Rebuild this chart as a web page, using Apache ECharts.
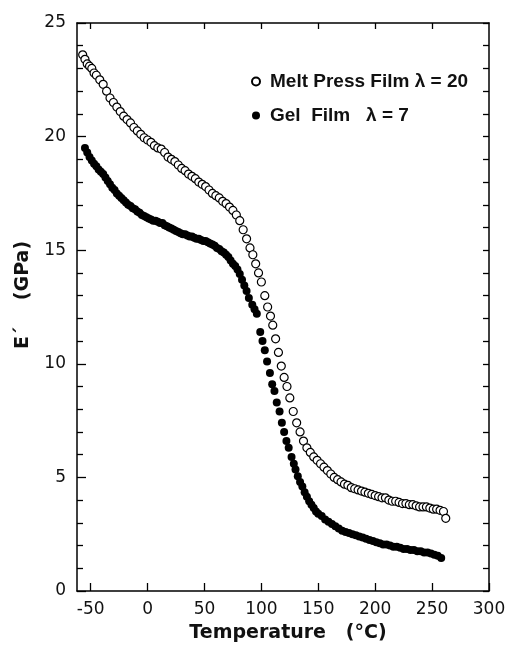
<!DOCTYPE html>
<html>
<head>
<meta charset="utf-8">
<title>E' vs Temperature</title>
<script src="https://cdn.jsdelivr.net/npm/echarts@6/dist/echarts.min.js"></script>
<style>
html, body { margin:0; height:100%; background:#fff; }
</style>
</head>
<body>
<div id="main" style="width:508px;height:648px;"></div>
<script>
// Melt Press Film (open circles)
var meltT = [-57,-55,-53,-51,-49,-47,-45,-42,-39,-36,-33,-30,-27,-24,-21,-18,-15,-12,-9,-6,-3,0,3,6,9,12,15,18,21,24,27,30,33,36,39,42,45,48,51,54,57,60,63,66,69,72,75,78,81,84,87,90,92.5,95,97.5,100,103,105.5,108,110,112.5,115,117.5,120,122.5,125,128,131,134,137,140,143,146,149,152,155,158,161,164,167,170,173,176,179,182,185,188,191,194,197,200,203,206,209,212,215,218,221,224,227,230,233,236,239,242,245,248,251,254,257,260,262];
var meltE = [23.6,23.4,23.2,23.1,23.0,22.8,22.7,22.5,22.3,22.0,21.7,21.5,21.3,21.1,20.9,20.75,20.6,20.4,20.25,20.1,19.95,19.85,19.75,19.6,19.5,19.45,19.3,19.1,19.0,18.9,18.75,18.6,18.5,18.35,18.25,18.15,18.0,17.9,17.8,17.65,17.5,17.4,17.3,17.15,17.05,16.9,16.75,16.55,16.3,15.9,15.5,15.1,14.8,14.4,14.0,13.6,13.0,12.5,12.1,11.7,11.1,10.5,9.9,9.4,9.0,8.5,7.9,7.4,7.0,6.6,6.3,6.1,5.9,5.75,5.6,5.45,5.3,5.15,5.0,4.9,4.8,4.7,4.65,4.55,4.5,4.45,4.4,4.35,4.3,4.25,4.2,4.15,4.1,4.1,4.0,3.95,3.95,3.9,3.85,3.85,3.8,3.8,3.75,3.7,3.7,3.7,3.65,3.6,3.6,3.55,3.5,3.2];

// Gel Film (filled circles)
var gelT = [-55,-53,-51,-49,-47,-45,-43,-41,-39,-37,-35,-33,-31,-29,-27,-25,-23,-21,-19,-17,-15,-13,-11,-9,-7,-5,-3,-1,1,3,5,7,9,11,13,15,17,19,21,23,25,27,29,31,33,35,37,39,41,43,45,47,49,51,53,55,57,59,61,63,65,67,69,71,73,75,77,79,81,83,85,87,89,92,94,96,99,101,103,105,107.5,109.5,111.5,113.5,116,118,120,122,124,126.5,128.5,130,132,134,136,138,140,142,144,146,148,150,153,156,159,162,165,168,171,174,177,180,183,186,189,192,195,198,201,204,207,210,213,216,219,222,225,228,231,234,237,240,243,246,249,252,255,258];
var gelE = [19.5,19.3,19.1,18.95,18.8,18.7,18.55,18.45,18.35,18.2,18.05,17.9,17.75,17.65,17.5,17.4,17.3,17.2,17.1,17.0,16.95,16.85,16.8,16.7,16.65,16.55,16.5,16.45,16.4,16.35,16.3,16.3,16.25,16.2,16.2,16.1,16.05,16.0,15.95,15.9,15.85,15.8,15.75,15.7,15.7,15.65,15.6,15.6,15.55,15.5,15.5,15.45,15.4,15.4,15.35,15.3,15.25,15.2,15.1,15.05,14.95,14.9,14.8,14.7,14.55,14.4,14.3,14.15,13.95,13.7,13.45,13.2,12.9,12.6,12.4,12.2,11.4,11.0,10.6,10.1,9.6,9.1,8.8,8.3,7.9,7.4,7.0,6.6,6.3,5.9,5.6,5.35,5.05,4.8,4.6,4.35,4.15,3.95,3.8,3.65,3.5,3.4,3.3,3.15,3.05,2.95,2.85,2.75,2.65,2.6,2.55,2.5,2.45,2.4,2.35,2.3,2.25,2.2,2.15,2.1,2.05,2.05,2.0,1.95,1.95,1.9,1.85,1.85,1.8,1.8,1.75,1.75,1.7,1.7,1.65,1.6,1.55,1.45];

var xTicks = [-50, 0, 50, 100, 150, 200, 250, 300];
var xTopTicks = [-50, 0, 50, 100, 150, 200, 250];

function pairs(xs, ys) {
    return xs.map(function (x, i) { return [x, ys[i]]; });
}

var chart = echarts.init(document.getElementById('main'));
var font = 'DejaVu Sans';

var option = {
    animation: false,
    backgroundColor: '#fff',
    grid: { left: 77, right: 19, top: 23, bottom: 57, outerBoundsMode: 'none' },
    legend: {
        orient: 'vertical',
        left: 246,
        top: 67,
        itemGap: 15,
        itemWidth: 8,
        itemHeight: 8,
        textStyle: { fontFamily: 'Liberation Sans', fontWeight: 'bold', fontSize: 19, color: '#111', padding: [0, 0, 0, 5] },
        data: ['Melt Press Film λ = 20', 'Gel  Film   λ = 7']
    },
    xAxis: [{
        type: 'value', position: 'bottom', min: -62, max: 300,
        axisLine: { onZero: false, lineStyle: { color: '#000', width: 1.5 } },
        axisTick: { inside: true, length: 8, customValues: xTicks, lineStyle: { color: '#000', width: 1.3 } },
        axisLabel: { customValues: xTicks, fontFamily: font, fontSize: 17, color: '#111', margin: 10 },
        splitLine: { show: false },
        name: 'Temperature   (°C)', nameLocation: 'middle', nameGap: 33,
        nameTextStyle: { fontFamily: font, fontWeight: 'bold', fontSize: 19, color: '#111', padding: [0, 0, 0, 10] }
    }, {
        type: 'value', position: 'top', min: -62, max: 300,
        axisLine: { onZero: false, lineStyle: { color: '#000', width: 1.5 } },
        axisTick: { inside: true, length: 6, customValues: xTopTicks, lineStyle: { color: '#000', width: 1.3 } },
        axisLabel: { show: false },
        splitLine: { show: false }
    }],
    yAxis: [{
        type: 'value', position: 'left', min: 0, max: 25, interval: 5,
        axisLine: { show: true, onZero: false, lineStyle: { color: '#000', width: 1.5 } },
        axisTick: { inside: true, length: 9, lineStyle: { color: '#000', width: 1.3 } },
        minorTick: { show: true, splitNumber: 5, length: 6, lineStyle: { color: '#000', width: 1.3 } },
        axisLabel: { fontFamily: font, fontSize: 17, color: '#111', margin: 11 },
        splitLine: { show: false },
        name: 'E´    (GPa)', nameLocation: 'middle', nameGap: 44, nameRotate: 90,
        nameTextStyle: { fontFamily: font, fontWeight: 'bold', fontSize: 19, color: '#111', padding: [0, 0, 0, 24] }
    }, {
        type: 'value', position: 'right', min: 0, max: 25, interval: 1,
        axisLine: { show: true, onZero: false, lineStyle: { color: '#000', width: 1.5 } },
        axisTick: { inside: true, length: 6, lineStyle: { color: '#000', width: 1.3 } },
        axisLabel: { show: false },
        splitLine: { show: false }
    }],
    series: [{
        name: 'Melt Press Film λ = 20',
        type: 'scatter',
        symbol: 'circle',
        symbolSize: 8,
        itemStyle: { color: '#fff', borderColor: '#000', borderWidth: 1.2, opacity: 1 },
        data: pairs(meltT, meltE)
    }, {
        name: 'Gel  Film   λ = 7',
        type: 'scatter',
        symbol: 'circle',
        symbolSize: 8,
        itemStyle: { color: '#000', opacity: 1 },
        data: pairs(gelT, gelE)
    }]
};

chart.setOption(option);
</script>
</body>
</html>
